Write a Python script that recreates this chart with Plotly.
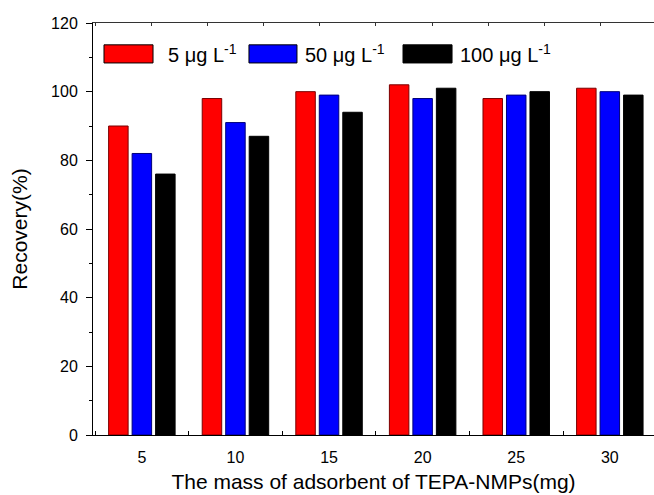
import plotly.graph_objects as go

masses = [5, 10, 15, 20, 25, 30]
conc_labels = ["5 μg L<sup>-1</sup>", "50 μg L<sup>-1</sup>", "100 μg L<sup>-1</sup>"]
rec_5 = [90, 98, 100, 102, 98, 101]
rec_50 = [82, 91, 99, 98, 99, 100]
rec_100 = [76, 87, 94, 101, 100, 99]

series = [rec_5, rec_50, rec_100]
fills = ["#ff0000", "#0000ff", "#000000"]
edges = ["#7a0000", "#00007a", "#000000"]

FONT = "Liberation Sans"

fig = go.Figure()
for name, vals, fc, ec in zip(conc_labels, series, fills, edges):
    fig.add_trace(go.Bar(x=masses, y=vals, name=name, marker=dict(color=fc, line=dict(color=ec, width=1)),
                         showlegend=False))

# custom legend (wide swatches like the original)
sw_x = [(0.0196, 0.107), (0.278, 0.3636), (0.5526, 0.640)]
tx_x = [0.130, 0.374, 0.651]
for (x0, x1), tx, fc, ec, lab in zip(sw_x, tx_x, fills, edges, conc_labels):
    fig.add_shape(type="rect", xref="paper", yref="paper", x0=x0, x1=x1, y0=0.903, y1=0.947,
                  fillcolor=fc, line=dict(color="#000000", width=1))
    fig.add_annotation(xref="paper", yref="paper", x=tx, y=0.925, text=lab, showarrow=False,
                       xanchor="left", yanchor="middle", font=dict(family=FONT, size=20, color="black"))

fig.update_layout(
    width=654, height=495,
    margin=dict(l=93, r=0, t=23, b=60),
    paper_bgcolor="white", plot_bgcolor="white",
    barmode="group", bargap=0.247, bargroupgap=0.17,
    font=dict(family=FONT, color="black"),
    xaxis=dict(range=[2.39, 32.36], tickvals=masses, ticktext=[str(m) for m in masses],
               ticks="", showline=True, linecolor="black", linewidth=1, showgrid=False, zeroline=False,
               tickfont=dict(size=16), ticklabelstandoff=8,
               minor=dict(tick0=2.5, dtick=5, ticks="inside", ticklen=4, tickcolor="black", showgrid=False),
               title=dict(text="The mass of adsorbent of TEPA-NMPs(mg)", font=dict(size=21), standoff=9)),
    xaxis2=dict(overlaying="x", side="top", range=[2.39, 32.36], tick0=5.5, dtick=3,
                ticks="inside", ticklen=3, tickcolor="#333333", showticklabels=False,
                showline=True, linecolor="#333333", linewidth=1, showgrid=False, zeroline=False),
    yaxis=dict(range=[0, 120], dtick=20, ticks="outside", ticklen=6, tickcolor="black",
               showline=True, linecolor="black", linewidth=1, showgrid=False, zeroline=False,
               tickfont=dict(size=16), ticklabelstandoff=5,
               minor=dict(dtick=10, ticks="outside", ticklen=3, tickcolor="black", showgrid=False),
               title=dict(text="Recovery(%)", font=dict(size=21), standoff=17)),
)
# invisible trace to activate top axis
fig.add_trace(go.Scatter(x=[masses[0]], y=[rec_5[0]], xaxis="x2", mode="markers",
                         marker=dict(opacity=0), showlegend=False, hoverinfo="skip"))

fig.write_html("out.html", config={"displayModeBar": False},
               post_script="document.body.style.margin='0';document.body.style.padding='0';")
